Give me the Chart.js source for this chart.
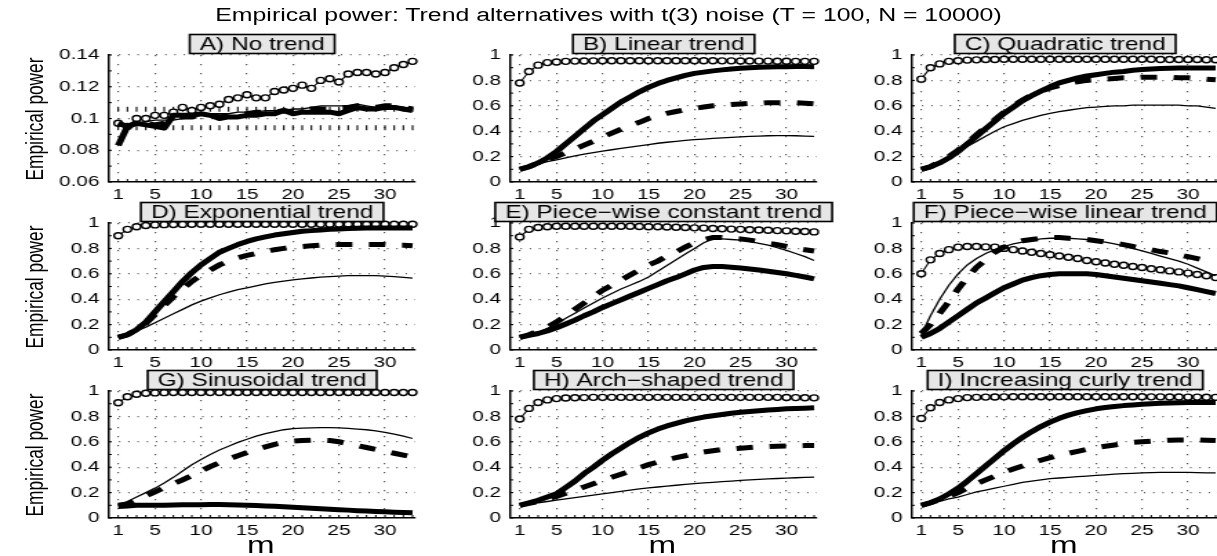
<!DOCTYPE html>
<html>
<head>
<meta charset="utf-8">
<script src="https://cdn.jsdelivr.net/npm/chart.js@4.4.1/dist/chart.umd.min.js"></script>
<style>
  html, body { margin: 0; padding: 0; background: #fff; overflow: hidden; }
  /* the whole figure is laid out narrow and widened horizontally */
  #page { position: absolute; left: 0; top: 0; width: 882px; height: 556px;
          transform-origin: 0 0; transform: scaleX(1.37982);
          font-family: "Liberation Sans", Arial, Helvetica, sans-serif; color: #000; }
  #page canvas { position: absolute; }
  #title { position: absolute; left: 0; width: 882px; top: 6px; text-align: center;
           font-size: 18px; line-height: 18px; white-space: nowrap; }
  .ylab { position: absolute; font-size: 17.3px; line-height: 18px; white-space: nowrap;
          transform: translate(-50%, -50%) rotate(-90deg); }
  .xlab { position: absolute; font-size: 24px; line-height: 24px; transform: translateX(-50%); }
</style>
</head>
<body>
<div id="page">
  <div id="title">Empirical power: Trend alternatives with t(3) noise (T = 100, N = 10000)</div>
</div>
<script>
const FONT = '"Liberation Sans", Arial, Helvetica, sans-serif';

const m = [1,2,3,4,5,6,7,8,9,10,11,12,13,14,15,16,17,18,19,20,21,22,23,24,25,26,27,28,29,30,31,32,33];
const xTicks = [1, 5, 10, 15, 20, 25, 30];
const yTicksA = [0.06, 0.08, 0.1, 0.12, 0.14];
const yTicks = [0, 0.2, 0.4, 0.6, 0.8, 1];
// 95% band around the nominal level 0.1
const ciBand = [0.0941, 0.1059];

const A_circ  = [0.097,0.095,0.100,0.100,0.102,0.102,0.104,0.107,0.105,0.107,0.108,0.109,0.112,0.113,0.115,0.113,0.113,0.117,0.118,0.119,0.121,0.119,0.124,0.125,0.123,0.128,0.129,0.129,0.128,0.129,0.132,0.134,0.136];
const A_thick = [0.083,0.095,0.097,0.096,0.095,0.094,0.102,0.102,0.102,0.103,0.102,0.100,0.101,0.101,0.102,0.102,0.103,0.103,0.105,0.103,0.104,0.104,0.104,0.104,0.103,0.105,0.107,0.106,0.106,0.107,0.107,0.106,0.105];
const A_dash  = [0.097,0.095,0.097,0.097,0.096,0.097,0.100,0.101,0.101,0.102,0.102,0.101,0.102,0.102,0.103,0.104,0.104,0.104,0.105,0.104,0.105,0.106,0.106,0.106,0.107,0.107,0.108,0.108,0.107,0.108,0.108,0.107,0.106];
const A_thin  = [0.096,0.095,0.097,0.098,0.099,0.099,0.099,0.100,0.101,0.102,0.103,0.103,0.103,0.104,0.104,0.104,0.105,0.105,0.105,0.106,0.106,0.107,0.108,0.108,0.108,0.108,0.109,0.108,0.107,0.108,0.108,0.107,0.106];

const B_circ  = [0.78,0.87,0.92,0.94,0.945,0.95,0.952,0.953,0.954,0.955,0.955,0.955,0.955,0.955,0.955,0.955,0.955,0.955,0.955,0.955,0.955,0.955,0.954,0.954,0.953,0.953,0.952,0.952,0.951,0.951,0.95,0.95,0.95];
const B_thick = [0.10,0.12,0.15,0.19,0.24,0.30,0.36,0.42,0.48,0.53,0.58,0.63,0.67,0.71,0.745,0.775,0.80,0.82,0.84,0.855,0.865,0.875,0.883,0.89,0.895,0.90,0.903,0.905,0.907,0.908,0.909,0.909,0.908];
const B_dash  = [0.10,0.12,0.15,0.18,0.20,0.23,0.26,0.29,0.32,0.355,0.385,0.415,0.445,0.47,0.50,0.52,0.54,0.555,0.57,0.58,0.59,0.60,0.605,0.61,0.615,0.62,0.62,0.625,0.625,0.625,0.625,0.62,0.615];
const B_thin  = [0.10,0.12,0.14,0.16,0.175,0.19,0.205,0.22,0.232,0.243,0.254,0.265,0.275,0.285,0.295,0.305,0.313,0.32,0.327,0.333,0.338,0.343,0.348,0.352,0.356,0.359,0.362,0.364,0.365,0.365,0.364,0.362,0.36];

const C_circ  = [0.81,0.90,0.93,0.95,0.955,0.96,0.962,0.964,0.965,0.966,0.966,0.967,0.967,0.967,0.967,0.967,0.967,0.967,0.967,0.967,0.967,0.967,0.967,0.966,0.966,0.966,0.965,0.965,0.965,0.964,0.964,0.963,0.963];
const C_thick = [0.10,0.12,0.15,0.19,0.24,0.30,0.36,0.42,0.48,0.54,0.59,0.64,0.68,0.715,0.75,0.78,0.80,0.82,0.835,0.845,0.855,0.865,0.87,0.88,0.885,0.89,0.893,0.895,0.897,0.898,0.898,0.898,0.897];
const C_dash  = [0.10,0.12,0.16,0.20,0.25,0.31,0.37,0.43,0.49,0.55,0.60,0.645,0.685,0.715,0.74,0.76,0.775,0.79,0.80,0.805,0.81,0.815,0.82,0.82,0.825,0.825,0.825,0.825,0.82,0.82,0.815,0.81,0.805];
const C_thin  = [0.10,0.12,0.15,0.19,0.23,0.28,0.32,0.36,0.40,0.435,0.46,0.485,0.505,0.525,0.54,0.555,0.565,0.575,0.585,0.59,0.595,0.60,0.60,0.605,0.605,0.605,0.605,0.605,0.605,0.60,0.60,0.59,0.58];

const D_circ  = [0.90,0.95,0.97,0.98,0.985,0.987,0.988,0.989,0.99,0.99,0.99,0.99,0.99,0.99,0.99,0.99,0.99,0.99,0.99,0.99,0.99,0.99,0.99,0.99,0.99,0.99,0.99,0.99,0.99,0.99,0.99,0.99,0.99];
const D_thick = [0.10,0.12,0.16,0.22,0.30,0.38,0.46,0.54,0.61,0.67,0.72,0.77,0.80,0.83,0.855,0.875,0.89,0.905,0.915,0.925,0.935,0.94,0.945,0.95,0.953,0.956,0.958,0.96,0.96,0.96,0.96,0.96,0.96];
const D_dash  = [0.10,0.12,0.16,0.21,0.28,0.35,0.42,0.48,0.54,0.59,0.63,0.67,0.70,0.725,0.745,0.76,0.775,0.79,0.80,0.81,0.815,0.82,0.825,0.83,0.83,0.83,0.83,0.83,0.83,0.83,0.825,0.825,0.82];
const D_thin  = [0.10,0.12,0.15,0.18,0.215,0.25,0.285,0.32,0.355,0.385,0.41,0.435,0.455,0.475,0.49,0.505,0.52,0.532,0.543,0.552,0.56,0.567,0.573,0.578,0.582,0.585,0.586,0.586,0.585,0.582,0.578,0.572,0.566];

const E_circ  = [0.89,0.95,0.965,0.97,0.975,0.975,0.975,0.975,0.975,0.975,0.975,0.975,0.975,0.972,0.97,0.97,0.968,0.966,0.964,0.962,0.96,0.957,0.955,0.952,0.95,0.947,0.945,0.943,0.94,0.938,0.935,0.933,0.93];
const E_thick = [0.10,0.115,0.13,0.15,0.175,0.205,0.235,0.27,0.30,0.335,0.365,0.395,0.425,0.455,0.485,0.515,0.545,0.57,0.60,0.63,0.65,0.657,0.657,0.652,0.645,0.638,0.63,0.62,0.61,0.60,0.588,0.575,0.56];
const E_dash  = [0.10,0.12,0.15,0.18,0.22,0.27,0.32,0.37,0.42,0.47,0.51,0.55,0.59,0.63,0.67,0.70,0.74,0.77,0.81,0.845,0.87,0.885,0.885,0.88,0.875,0.865,0.855,0.84,0.83,0.815,0.80,0.79,0.78];
const E_thin  = [0.10,0.12,0.14,0.17,0.205,0.25,0.29,0.33,0.37,0.41,0.445,0.48,0.51,0.54,0.575,0.62,0.665,0.71,0.755,0.80,0.845,0.875,0.875,0.87,0.865,0.855,0.84,0.825,0.805,0.785,0.76,0.735,0.705];

const F_circ  = [0.60,0.71,0.76,0.79,0.81,0.815,0.815,0.812,0.81,0.80,0.79,0.78,0.77,0.76,0.75,0.74,0.73,0.72,0.705,0.695,0.685,0.675,0.667,0.658,0.65,0.64,0.632,0.623,0.615,0.605,0.595,0.585,0.57];
const F_thick = [0.10,0.13,0.17,0.22,0.27,0.32,0.37,0.41,0.45,0.49,0.52,0.55,0.57,0.585,0.595,0.60,0.60,0.60,0.60,0.595,0.585,0.575,0.565,0.555,0.545,0.535,0.525,0.515,0.505,0.49,0.475,0.46,0.445];
const F_dash  = [0.13,0.20,0.29,0.38,0.48,0.57,0.65,0.71,0.77,0.81,0.84,0.86,0.87,0.88,0.885,0.885,0.88,0.875,0.87,0.86,0.85,0.84,0.83,0.815,0.80,0.79,0.775,0.765,0.75,0.735,0.72,0.705,0.69];
const F_thin  = [0.12,0.27,0.40,0.51,0.60,0.67,0.72,0.76,0.79,0.815,0.835,0.85,0.865,0.875,0.88,0.88,0.88,0.875,0.87,0.86,0.85,0.835,0.82,0.80,0.78,0.76,0.74,0.72,0.70,0.675,0.645,0.615,0.585];

const G_circ  = [0.907,0.955,0.975,0.982,0.985,0.987,0.988,0.988,0.988,0.988,0.988,0.988,0.988,0.988,0.988,0.988,0.988,0.988,0.988,0.988,0.988,0.988,0.988,0.988,0.988,0.988,0.988,0.988,0.988,0.988,0.988,0.988,0.988];
const G_thick = [0.09,0.095,0.10,0.10,0.10,0.10,0.102,0.104,0.105,0.105,0.106,0.106,0.105,0.103,0.100,0.098,0.095,0.092,0.088,0.085,0.081,0.077,0.073,0.069,0.065,0.062,0.058,0.055,0.052,0.049,0.046,0.044,0.042];
const G_dash  = [0.10,0.11,0.14,0.175,0.205,0.24,0.27,0.30,0.335,0.37,0.405,0.435,0.465,0.49,0.515,0.54,0.56,0.58,0.595,0.605,0.61,0.613,0.613,0.61,0.60,0.585,0.57,0.555,0.54,0.525,0.51,0.495,0.48];
const G_thin  = [0.10,0.13,0.165,0.20,0.235,0.275,0.32,0.37,0.42,0.46,0.50,0.535,0.565,0.595,0.62,0.645,0.665,0.68,0.695,0.703,0.708,0.71,0.712,0.712,0.71,0.706,0.70,0.695,0.686,0.675,0.66,0.645,0.626];

const H_circ  = [0.78,0.863,0.91,0.93,0.94,0.945,0.947,0.948,0.95,0.95,0.95,0.95,0.95,0.95,0.95,0.95,0.95,0.95,0.95,0.95,0.95,0.95,0.95,0.95,0.95,0.95,0.95,0.95,0.95,0.949,0.948,0.947,0.946];
const H_thick = [0.10,0.12,0.14,0.165,0.19,0.24,0.29,0.35,0.40,0.455,0.505,0.55,0.595,0.635,0.67,0.70,0.725,0.745,0.765,0.78,0.795,0.805,0.815,0.825,0.832,0.838,0.844,0.85,0.855,0.86,0.862,0.865,0.868];
const H_dash  = [0.10,0.115,0.13,0.15,0.17,0.195,0.22,0.245,0.27,0.295,0.32,0.345,0.37,0.395,0.42,0.44,0.46,0.475,0.49,0.505,0.52,0.53,0.54,0.545,0.55,0.555,0.56,0.562,0.565,0.567,0.568,0.57,0.57];
const H_thin  = [0.10,0.11,0.12,0.13,0.14,0.15,0.16,0.17,0.18,0.19,0.20,0.21,0.22,0.23,0.237,0.244,0.251,0.258,0.264,0.27,0.276,0.281,0.286,0.291,0.296,0.30,0.304,0.308,0.311,0.314,0.317,0.32,0.322];

const I_circ  = [0.784,0.868,0.91,0.93,0.94,0.948,0.95,0.952,0.953,0.954,0.955,0.955,0.955,0.955,0.955,0.955,0.955,0.955,0.955,0.955,0.955,0.955,0.955,0.955,0.955,0.954,0.954,0.953,0.953,0.952,0.952,0.951,0.95];
const I_thick = [0.10,0.12,0.15,0.19,0.235,0.29,0.35,0.41,0.47,0.53,0.585,0.635,0.68,0.72,0.755,0.785,0.81,0.83,0.845,0.86,0.87,0.878,0.885,0.89,0.895,0.90,0.903,0.906,0.908,0.91,0.91,0.91,0.91];
const I_dash  = [0.10,0.12,0.145,0.17,0.20,0.235,0.27,0.30,0.33,0.36,0.385,0.41,0.435,0.455,0.475,0.495,0.51,0.525,0.54,0.555,0.565,0.575,0.585,0.595,0.60,0.605,0.61,0.613,0.615,0.615,0.615,0.613,0.61];
const I_thin  = [0.10,0.115,0.13,0.15,0.165,0.185,0.205,0.22,0.235,0.25,0.265,0.28,0.29,0.30,0.31,0.315,0.32,0.325,0.33,0.335,0.34,0.345,0.35,0.352,0.355,0.357,0.36,0.36,0.36,0.36,0.358,0.356,0.355];

const panels = [
  { title: 'A) No trend',                  s: [A_circ, A_thick, A_dash, A_thin], band: true },
  { title: 'B) Linear trend',              s: [B_circ, B_thick, B_dash, B_thin] },
  { title: 'C) Quadratic trend',           s: [C_circ, C_thick, C_dash, C_thin] },
  { title: 'D) Exponential trend',         s: [D_circ, D_thick, D_dash, D_thin] },
  { title: 'E) Piece\u2212wise constant trend', s: [E_circ, E_thick, E_dash, E_thin] },
  { title: 'F) Piece\u2212wise linear trend',   s: [F_circ, F_thick, F_dash, F_thin] },
  { title: 'G) Sinusoidal trend',          s: [G_circ, G_thick, G_dash, G_thin] },
  { title: 'H) Arch\u2212shaped trend',    s: [H_circ, H_thick, H_dash, H_thin] },
  { title: 'I) Increasing curly trend',    s: [I_circ, I_thick, I_dash, I_thin] },
];

// plot rectangles (unstretched units)
const colLeft = [79, 370, 661];
const rowTop = [55, 223, 391];
const plotW = 222, plotH = 127;
const PAD = { left: 10, top: 36, right: 24, bottom: 7 };
const YAXW = 40, XAXH = 25;

// inner minor ticks and the grey title box above each panel
const panelDecor = {
  id: 'panelDecor',
  afterDraw(chart, args, opts) {
    const { ctx, chartArea: a, scales: { x, y } } = chart;
    ctx.save();
    ctx.strokeStyle = '#000';
    ctx.lineWidth = 1;
    ctx.beginPath();
    for (let v = 1; v <= 33; v++) {
      const px = x.getPixelForValue(v);
      ctx.moveTo(px, a.bottom);
      ctx.lineTo(px, a.bottom - 3);
    }
    for (let v = y.min; v <= y.max + 1e-9; v += opts.yStep) {
      const py = y.getPixelForValue(v);
      ctx.moveTo(a.left, py);
      ctx.lineTo(a.left + 2, py);
    }
    ctx.stroke();

    ctx.font = '17.7px ' + FONT;
    const tw = ctx.measureText(opts.title).width;
    const bw = tw + 14.6, bh = 19;
    const cx = (a.left + a.right) / 2, by = a.top - 1.5 - bh;
    ctx.fillStyle = '#e6e6e6';
    ctx.fillRect(cx - bw / 2, by, bw, bh);
    ctx.lineWidth = 1.6;
    ctx.strokeRect(cx - bw / 2, by, bw, bh);
    ctx.fillStyle = '#000';
    ctx.textAlign = 'center';
    ctx.textBaseline = 'alphabetic';
    ctx.fillText(opts.title, cx, by + bh / 2 + 6.3);
    ctx.restore();
  }
};

function pts(vals) {
  return m.map((v, i) => ({ x: v, y: vals[i] }));
}

function makeSets(p) {
  const [circ, thick, dash, thin] = p.s;
  const sets = [
    { data: pts(thin), borderColor: '#000', borderWidth: 1.3, pointRadius: 0, order: 1 },
    { data: pts(dash), borderColor: '#000', borderWidth: 5, borderDash: [12, 12], pointRadius: 0, order: 2 },
    { data: pts(thick), borderColor: '#000', borderWidth: 5, borderJoinStyle: 'round', pointRadius: 0, order: 3 },
    { data: pts(circ), borderColor: '#000', borderWidth: 1.1, pointRadius: 3, pointBorderWidth: 1.4,
      pointBackgroundColor: '#fff', pointBorderColor: '#000', order: 4 },
  ];
  if (p.band) {
    ciBand.forEach(b => {
      sets.push({ data: m.map(v => ({ x: v, y: b })), showLine: false, pointStyle: 'line', rotation: 90,
                  pointRadius: 2.5, pointBorderWidth: 1.1, pointBorderColor: '#000', order: 5 });
    });
  }
  sets.forEach(d => { d.clip = false; d.tension = 0; d.fill = false; });
  return sets;
}

const page = document.getElementById('page');

panels.forEach((p, k) => {
  const col = k % 3, row = Math.floor(k / 3);
  const cv = document.createElement('canvas');
  const w = PAD.left + YAXW + plotW + PAD.right;
  const h = PAD.top + plotH + XAXH + PAD.bottom;
  cv.width = w; cv.height = h;
  cv.style.left = (colLeft[col] - PAD.left - YAXW) + 'px';
  cv.style.top = (rowTop[row] - PAD.top) + 'px';
  page.appendChild(cv);

  const yt = p.band ? yTicksA : yTicks;
  new Chart(cv, {
    type: 'line',
    data: { datasets: makeSets(p) },
    options: {
      responsive: false,
      animation: false,
      devicePixelRatio: 1,
      events: [],
      layout: { padding: PAD },
      plugins: {
        legend: { display: false },
        tooltip: { enabled: false },
        panelDecor: { title: p.title, yStep: p.band ? 0.01 : 0.1 }
      },
      scales: {
        x: {
          type: 'linear', min: 0, max: 33.3,
          afterBuildTicks: s => { s.ticks = xTicks.map(v => ({ value: v })); },
          afterFit: s => { s.height = XAXH; },
          ticks: { color: '#000', font: { family: FONT, size: 15 }, padding: 4,
                   autoSkip: false, maxRotation: 0, callback: v => String(v) },
          grid: { color: '#555', lineWidth: 1.2, drawTicks: false },
          border: { display: true, color: '#000', width: 1.5, dash: [1.3, 7.7] }
        },
        y: {
          type: 'linear', min: yt[0], max: yt[yt.length - 1],
          afterBuildTicks: s => { s.ticks = yt.map(v => ({ value: v })); },
          afterFit: s => { s.width = YAXW; },
          ticks: { color: '#000', font: { family: FONT, size: 15 }, padding: 7,
                   autoSkip: false, callback: v => String(v) },
          grid: { color: '#555', lineWidth: 1.2, drawTicks: false },
          border: { display: true, color: '#000', width: 1.5, dash: [1, 5.7] }
        }
      }
    },
    plugins: [panelDecor]
  });
});

// axis titles
rowTop.forEach(t => {
  const d = document.createElement('div');
  d.className = 'ylab';
  d.textContent = 'Empirical power';
  d.style.left = '25px';
  d.style.top = (t + plotH / 2) + 'px';
  page.appendChild(d);
});
colLeft.forEach(l => {
  const d = document.createElement('div');
  d.className = 'xlab';
  d.textContent = 'm';
  d.style.left = (l + plotW / 2 - 1) + 'px';
  d.style.top = '533px';
  page.appendChild(d);
});
</script>
</body>
</html>
